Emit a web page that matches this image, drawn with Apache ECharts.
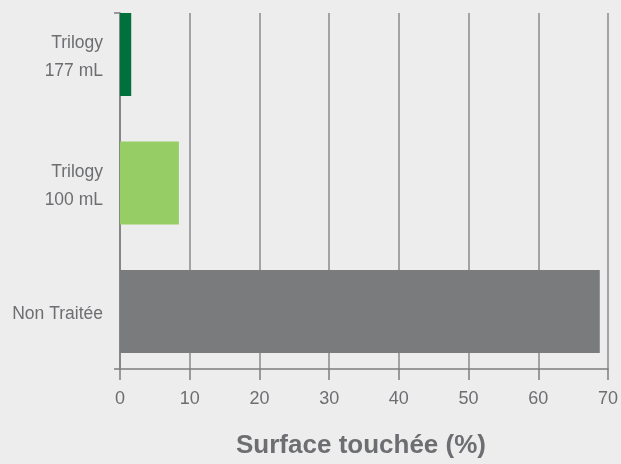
<!DOCTYPE html>
<html><head><meta charset="utf-8">
<script src="https://cdn.jsdelivr.net/npm/echarts@6/dist/echarts.min.js"></script>
<style>html,body{margin:0;padding:0;background:#ededed;}#c{width:621px;height:464px;}</style>
</head><body><div id="c"></div>
<script>
const categories = ['Trilogy\n177 mL', 'Trilogy\n100 mL', 'Non Traitée'];
const values = [1.6, 8.4, 68.4];
const barColors = ['#00703c', '#97cd65', '#7a7b7c'];
const xTicks = [0, 10, 20, 30, 40, 50, 60, 70];
const axisTitle = 'Surface touchée (%)';

const chart = echarts.init(document.getElementById('c'));
const font = '"Liberation Sans", Arial, Helvetica, sans-serif';
chart.setOption({
  backgroundColor: '#ededed',
  animation: false,
  grid: [
    {left: 120, right: 10, top: 54.5, bottom: 152.5, containLabel: false},
    {left: 120, right: 10, top: 13, bottom: 92, containLabel: false},
    {left: 120, right: 10, top: 57.5, bottom: 149.5, containLabel: false}
  ],
  xAxis: [
    {gridIndex: 0, type: 'value', min: xTicks[0], max: xTicks[xTicks.length-1], interval: 10,
     show: false},
    {gridIndex: 1, type: 'value', min: xTicks[0], max: xTicks[xTicks.length-1], interval: 10,
     axisLine: {show: true, lineStyle: {color: '#7d7d7f', width: 1.5}},
     axisTick: {show: true, length: 11, lineStyle: {color: '#7d7d7f', width: 1.5}},
     splitLine: {show: true, lineStyle: {color: '#8a8a8c', width: 1.5}},
     axisLabel: {color: '#6d6e71', fontSize: 18, fontFamily: font, margin: 21},
     name: axisTitle, nameLocation: 'middle', nameGap: 64,
     nameTextStyle: {color: '#6d6e71', fontSize: 26, fontWeight: 'bold', fontFamily: font, padding: [0, 6, 0, 0]}},
    {gridIndex: 2, type: 'value', min: xTicks[0], max: xTicks[xTicks.length-1], show: false}
  ],
  yAxis: [
    {gridIndex: 0, type: 'category', data: categories, inverse: true, boundaryGap: false,
     axisLine: {show: false}, axisTick: {show: false}, splitLine: {show: false},
     axisLabel: {show: false}},
    {gridIndex: 1, type: 'value', min: 0, max: 1, interval: 1,
     axisLine: {show: true, lineStyle: {color: '#7d7d7f', width: 1.5}},
     axisTick: {show: true, length: 6, lineStyle: {color: '#7d7d7f', width: 1.5}},
     axisLabel: {show: false}, splitLine: {show: false}},
    {gridIndex: 2, type: 'category', data: categories, inverse: true, boundaryGap: false,
     axisLine: {show: false}, axisTick: {show: false}, splitLine: {show: false},
     axisLabel: {color: '#6d6e71', fontSize: 17.5, fontFamily: font, margin: 17, lineHeight: 28, align: 'right'}}
  ],
  series: [{
    type: 'bar', xAxisIndex: 0, yAxisIndex: 0, barWidth: 83, z: 3, clip: false,
    data: values.map((v, i) => ({value: v, itemStyle: {color: barColors[i]}}))
  }]
});
</script></body></html>
